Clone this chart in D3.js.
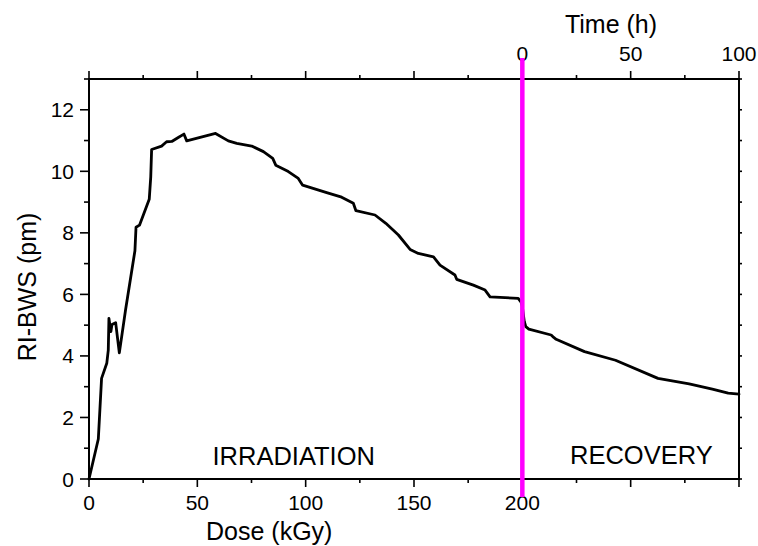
<!DOCTYPE html>
<html>
<head>
<meta charset="utf-8">
<script src="https://cdn.jsdelivr.net/npm/d3@7"></script>
<style>
  html, body { margin: 0; padding: 0; background: #fff; }
  svg { display: block; font-family: "Liberation Sans", Arial, sans-serif; }
</style>
</head>
<body>
<svg id="chart" width="758" height="546"></svg>
<script>
// ---- data ----
// Irradiation phase: [dose (kGy), RI-BWS (pm)]
const irradiationDose = [0, 4.3, 5.8, 8.2, 8.9, 9.2, 10.1, 10.6, 12.3, 14.0, 16.9, 21.2, 21.7, 23.3, 27.8, 28.5, 28.9, 33.5, 35.8, 38.2, 41.2, 43.8, 45.1, 58.4, 64.3, 68.2, 75.1, 80.5, 84.8, 86.2, 92.0, 96.6, 98.6, 109.7, 116.6, 122.0, 123.2, 132.0, 137.0, 142.8, 148.2, 152.0, 159.0, 162.0, 168.9, 169.7, 177.4, 182.8, 185.1, 198.1, 199.4, 200];
const irradiationValue = [0, 1.3, 3.27, 3.76, 4.19, 5.22, 4.79, 5.02, 5.08, 4.1, 5.51, 7.42, 8.18, 8.25, 9.09, 9.82, 10.71, 10.82, 10.96, 10.97, 11.1, 11.21, 10.99, 11.23, 10.99, 10.91, 10.82, 10.64, 10.42, 10.2, 9.99, 9.77, 9.55, 9.31, 9.16, 8.96, 8.72, 8.58, 8.31, 7.93, 7.46, 7.33, 7.22, 6.95, 6.63, 6.49, 6.3, 6.14, 5.92, 5.87, 5.75, 5.6];
// Recovery phase: [time (h), RI-BWS (pm)]
const recoveryTime = [0, 0.9, 1.6, 3.0, 13.3, 14.5, 15.6, 28.7, 43.0, 62.6, 77.0, 87.7, 95.0, 100];
const recoveryValue = [5.6, 5.12, 4.95, 4.87, 4.68, 4.6, 4.54, 4.14, 3.86, 3.27, 3.09, 2.92, 2.79, 2.76];

const doseTicks = [0, 25, 50, 75, 100, 125, 150, 175, 200, 225, 250, 275, 300];
const doseLabels = [0, 50, 100, 150, 200];
const timeLabels = [0, 50, 100];
const yTicks = [0, 1, 2, 3, 4, 5, 6, 7, 8, 9, 10, 11, 12, 13];
const yLabels = [0, 2, 4, 6, 8, 10, 12];
const switchDose = 200;

// ---- layout ----
const W = 758, H = 546;
const m = { left: 89, right: 19, top: 79, bottom: 67 };
const x0 = m.left, x1 = W - m.right, y0 = H - m.bottom, y1 = m.top;

const svg = d3.select("#chart");
const x = d3.scaleLinear().domain([0, 300]).range([x0, x1]);
const xt = d3.scaleLinear().domain([-200, 100]).range([x0, x1]);
const y = d3.scaleLinear().domain([0, 13]).range([y0, y1]);

const TICK_FS = 21, TITLE_FS = 25;

// bottom axis
const gB = svg.append("g").attr("transform", `translate(0,${y0})`);
gB.call(d3.axisBottom(x).tickValues(doseTicks).tickSize(0).tickFormat(""));
gB.select(".domain").remove();
gB.selectAll(".tick line").remove();
gB.selectAll(".tmaj").data(doseTicks).join("line")
  .attr("x1", d => x(d)).attr("x2", d => x(d)).attr("y1", 0)
  .attr("y2", d => d % 50 === 0 ? 8 : 4)
  .attr("stroke", "#000").attr("stroke-width", 1.6);
gB.selectAll(".lbl").data(doseLabels).join("text")
  .attr("x", d => x(d)).attr("y", 31)
  .attr("text-anchor", "middle").attr("font-size", TICK_FS).attr("fill", "#000")
  .text(d => d);

// top axis
const gT = svg.append("g").attr("transform", `translate(0,${y1})`);
gT.selectAll(".tk").data(doseTicks).join("line")
  .attr("x1", d => x(d)).attr("x2", d => x(d)).attr("y1", 0)
  .attr("y2", d => d % 50 === 0 ? -8 : -4)
  .attr("stroke", "#000").attr("stroke-width", 1.6);
gT.selectAll(".lbl").data(timeLabels).join("text")
  .attr("x", d => xt(d)).attr("y", -18)
  .attr("text-anchor", "middle").attr("font-size", TICK_FS).attr("fill", "#000")
  .text(d => d);

// left axis
const gL = svg.append("g");
gL.selectAll(".tk").data(yTicks).join("line")
  .attr("x1", x0).attr("x2", d => d % 2 === 0 ? x0 - 9 : x0 - 5)
  .attr("y1", d => y(d)).attr("y2", d => y(d))
  .attr("stroke", "#000").attr("stroke-width", 1.6);
gL.selectAll(".lbl").data(yLabels).join("text")
  .attr("x", x0 - 15).attr("y", d => y(d)).attr("dy", "0.36em")
  .attr("text-anchor", "end").attr("font-size", TICK_FS).attr("fill", "#000")
  .text(d => d);

// right axis
const gR = svg.append("g");
gR.selectAll(".tk").data(yTicks).join("line")
  .attr("x1", x1).attr("x2", x1 + 3)
  .attr("y1", d => y(d)).attr("y2", d => y(d))
  .attr("stroke", "#000").attr("stroke-width", 1.6);

// frame
svg.append("rect").attr("x", x0).attr("y", y1).attr("width", x1 - x0).attr("height", y0 - y1)
  .attr("fill", "none").attr("stroke", "#000").attr("stroke-width", 2);

// data curve
const pts = irradiationDose.map((d, i) => [x(d), y(irradiationValue[i])])
  .concat(recoveryTime.map((t, i) => [xt(t), y(recoveryValue[i])]));
svg.append("path").attr("d", d3.line()(pts))
  .attr("fill", "none").attr("stroke", "#000").attr("stroke-width", 2.8)
  .attr("stroke-linejoin", "round").attr("stroke-linecap", "round");

// magenta separator
svg.append("line")
  .attr("x1", x(switchDose)).attr("x2", x(switchDose))
  .attr("y1", y1 - 21).attr("y2", y0 + 18)
  .attr("stroke", "#ff00ff").attr("stroke-width", 4.5);

// annotations
svg.append("text").attr("x", x(57)).attr("y", y(0.45))
  .attr("font-size", 25.5).attr("fill", "#000").text("IRRADIATION");
svg.append("text").attr("x", xt(22)).attr("y", y(0.5))
  .attr("font-size", 25.5).attr("fill", "#000").text("RECOVERY");

// axis titles
svg.append("text").attr("x", 206).attr("y", 540)
  .attr("font-size", TITLE_FS).attr("fill", "#000").text("Dose (kGy)");
svg.append("text").attr("x", 611).attr("y", 33)
  .attr("text-anchor", "middle").attr("font-size", TITLE_FS).attr("fill", "#000").text("Time (h)");
svg.append("text").attr("transform", "translate(36,287) rotate(-90)")
  .attr("text-anchor", "middle").attr("font-size", TITLE_FS).attr("fill", "#000").text("RI-BWS (pm)");
</script>
</body>
</html>
